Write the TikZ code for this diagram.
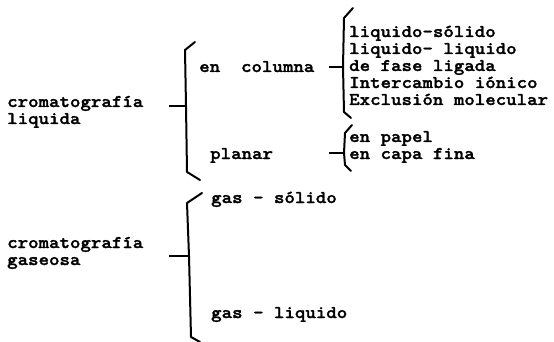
\documentclass[tikz,border=0pt]{standalone}
\usepackage{fontspec}
\newfontfamily\typew[FakeStretch=1.12,FakeBold=1.6]{lmmonolt10-bold.otf}
\begin{document}
\begin{tikzpicture}[x=1pt,y=-1pt,
  lbl/.style={anchor=base west,inner sep=0pt,font=\typew\fontsize{17.8}{17}\selectfont},
  brace/.style={line width=2pt,line join=round,line cap=round},
  tickline/.style={line width=2pt}]
\useasboundingbox (0,0) rectangle (554,342);
% texts
\node[lbl] (crA) at (7,107) {cromatograf\'ia};
\node[lbl] (liq) at (7,124) {liquida};
\node[lbl] (col) at (199,72) {en\ \ columna};
\node[lbl] (pla) at (210,159) {planar};
\node[lbl] (r1) at (349,37) {liquido-s\'olido};
\node[lbl] (r2) at (349,54) {liquido- liquido};
\node[lbl] (r3) at (349,71) {de fase ligada};
\node[lbl] (r4) at (349,88) {Intercambio i\'onico};
\node[lbl] (r5) at (349,105) {Exclusi\'on molecular};
\node[lbl] (p1) at (349,142) {en papel};
\node[lbl] (p2) at (349,159) {en capa fina};
\node[lbl] (gs) at (211,203) {gas - s\'olido};
\node[lbl] (crB) at (7,248) {cromatograf\'ia};
\node[lbl] (gaseosa) at (7,265) {gaseosa};
\node[lbl] (gl) at (211,318) {gas - liquido};
% bracket coordinates
\coordinate (a1) at (195,42); \coordinate (a2) at (185,50); \coordinate (am) at (186,106);
\coordinate (a3) at (187,172); \coordinate (a4) at (200,180); \coordinate (at) at (169,106);
\coordinate (b1) at (353,8); \coordinate (b2) at (344,18); \coordinate (bm) at (343,67);
\coordinate (b3) at (344,112); \coordinate (b4) at (351,118); \coordinate (bt) at (329,67);
\coordinate (c1) at (352,125); \coordinate (c2) at (345,133); \coordinate (cm) at (344,153);
\coordinate (c3) at (345,165); \coordinate (c4) at (351,171); \coordinate (ct) at (329,153);
\coordinate (d1) at (202,193); \coordinate (d2) at (187,203); \coordinate (dm) at (189,256);
\coordinate (d3) at (191,337); \coordinate (d4) at (200,342); \coordinate (dt) at (169,256);
% brackets
\draw[brace] (a1) -- (a2) -- (am) -- (a3) -- (a4);
\draw[tickline] (at) -- (am);
\draw[brace] (b1) -- (b2) -- (bm) -- (b3) -- (b4);
\draw[tickline] (bt) -- (bm);
\draw[brace] (c1) -- (c2) -- (cm) -- (c3) -- (c4);
\draw[tickline] (ct) -- (cm);
\draw[brace] (d1) -- (d2) -- (dm) -- (d3) -- (d4);
\draw[tickline] (dt) -- (dm);
\end{tikzpicture}
\end{document}
